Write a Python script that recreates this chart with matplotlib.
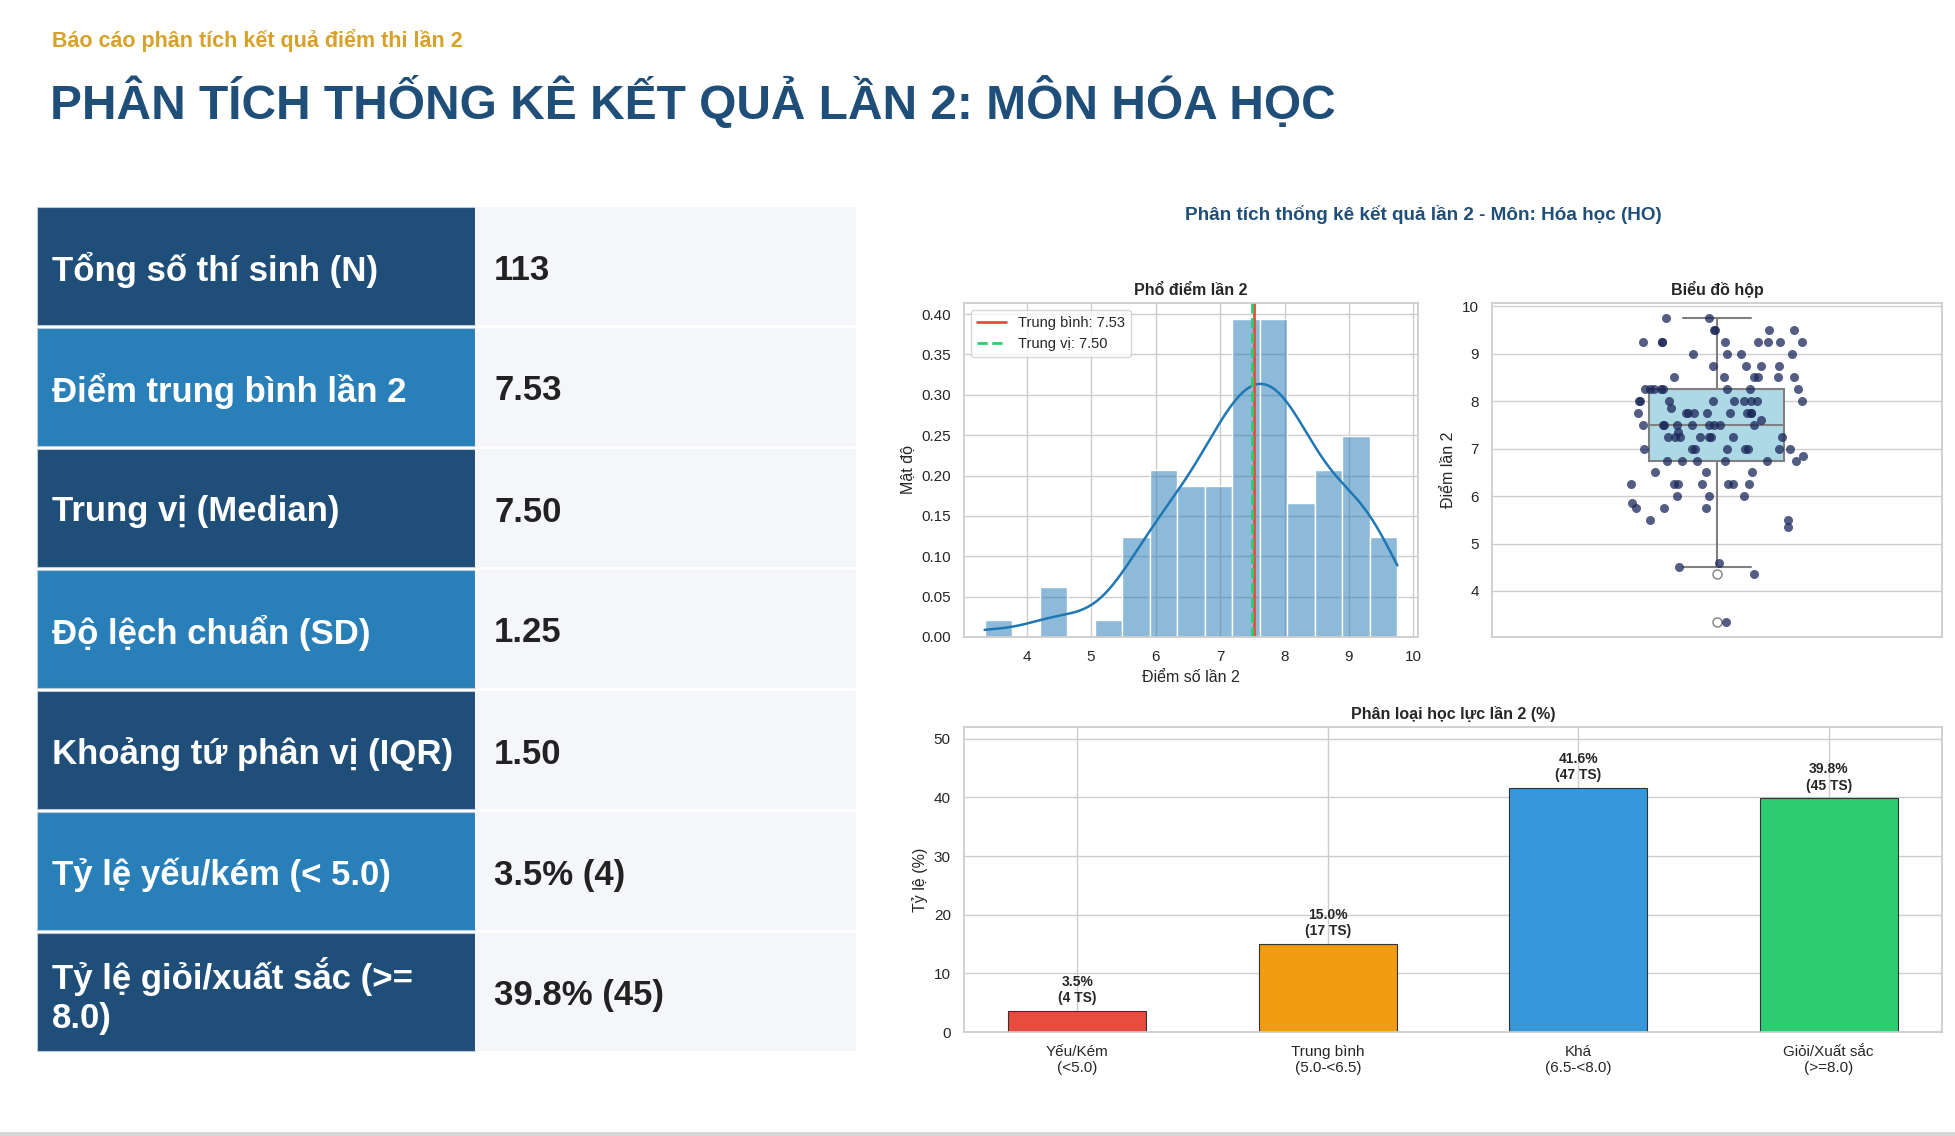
import textwrap
import numpy as np
import matplotlib
matplotlib.use("Agg")
import matplotlib.pyplot as plt
from matplotlib.patches import Rectangle
import seaborn as sns

# ---------------- data ----------------
scores = [
    3.35,
    4.35, 4.5, 4.6,
    5.35, 5.5, 5.5, 5.75, 5.75, 5.75, 5.85,
    6.0, 6.0, 6.0, 6.25, 6.25, 6.25, 6.25, 6.25, 6.25, 6.25,
    6.5, 6.5, 6.5, 6.75, 6.75, 6.75, 6.75, 6.75, 6.75, 6.85,
    7.0, 7.0, 7.0, 7.0, 7.0, 7.0, 7.0, 7.0,
    7.25, 7.25, 7.25, 7.25, 7.25, 7.25, 7.25, 7.25, 7.35,
    7.5, 7.5, 7.5, 7.5, 7.5, 7.5, 7.5, 7.5, 7.5, 7.6,
    7.75, 7.75, 7.75, 7.75, 7.75, 7.75, 7.75, 7.75, 7.75, 7.85,
    8.0, 8.0, 8.0, 8.0, 8.0, 8.0, 8.0, 8.0, 8.0,
    8.25, 8.25, 8.25, 8.25, 8.25, 8.25, 8.25, 8.25,
    8.5, 8.5, 8.5, 8.5, 8.5, 8.5,
    8.75, 8.75, 8.75, 8.75,
    9.0, 9.0, 9.0, 9.0,
    9.25, 9.25, 9.25, 9.25, 9.25, 9.25, 9.25, 9.25,
    9.5, 9.5, 9.5, 9.5,
    9.75, 9.75,
]

stat_labels = [
    "Tổng số thí sinh (N)",
    "Điểm trung bình lần 2",
    "Trung vị (Median)",
    "Độ lệch chuẩn (SD)",
    "Khoảng tứ phân vị (IQR)",
    "Tỷ lệ yếu/kém (< 5.0)",
    "Tỷ lệ giỏi/xuất sắc (>= 8.0)",
]
stat_values = ["113", "7.53", "7.50", "1.25", "1.50", "3.5% (4)", "39.8% (45)"]

cat_names = ["Yếu/Kém\n(<5.0)", "Trung bình\n(5.0-<6.5)", "Khá\n(6.5-<8.0)", "Giỏi/Xuất sắc\n(>=8.0)"]
cat_edges = [0.0, 5.0, 6.5, 8.0, 10.01]
cat_colors = ["#e74c3c", "#f39c12", "#3498db", "#2ecc71"]

subtitle = "Báo cáo phân tích kết quả điểm thi lần 2"
main_title = "PHÂN TÍCH THỐNG KÊ KẾT QUẢ LẦN 2: MÔN HÓA HỌC"
chart_title = "Phân tích thống kê kết quả lần 2 - Môn: Hóa học (HO)"

# ---------------- style ----------------
sns.set_theme(style="whitegrid")
plt.rcParams["font.family"] = ["Liberation Sans", "DejaVu Sans"]

W, H = 1956, 1136
fig = plt.figure(figsize=(W / 100, H / 100), dpi=100)
fig.patch.set_facecolor("white")

def ax_px(l, t, r, b):
    return fig.add_axes([l / W, 1 - b / H, (r - l) / W, (b - t) / H])

# background / table layer in pixel coordinates
bg = fig.add_axes([0, 0, 1, 1])
bg.set_xlim(0, W)
bg.set_ylim(H, 0)
bg.axis("off")

bg.text(52, 40, subtitle, fontsize=15.5, fontweight="bold", color="#d6a22b", va="center", ha="left")
bg.text(50, 103, main_title, fontsize=34.5, fontweight="bold", color="#1f4e79", va="center", ha="left")

dark, mid = "#1f4e79", "#2980b9"
top0, pitch, rh = 207, 121, 118
for i, (lab, val) in enumerate(zip(stat_labels, stat_values)):
    top = top0 + i * pitch
    bg.add_patch(Rectangle((37, top), 438, rh, facecolor=dark if i % 2 == 0 else mid,
                           edgecolor="#b9c9da", linewidth=0.8))
    bg.add_patch(Rectangle((475, top), 381, rh, facecolor="#f4f6fa", edgecolor="none"))
    bg.text(52, top + rh / 2 + 4, textwrap.fill(lab, 23), fontsize=25, fontweight="bold",
            color="white", va="center", ha="left", linespacing=1.25)
    bg.text(494, top + rh / 2 + 4, val, fontsize=25, fontweight="bold",
            color="#222222", va="center", ha="left")

bg.add_patch(Rectangle((0, 1132), W, 4, facecolor="#d6d6d6", edgecolor="none"))

bg.text(1423, 215, chart_title, fontsize=13.6, fontweight="bold", color="#1f4e79",
        ha="center", va="center")

arr = np.array(scores)
mean_v = arr.mean()
median_v = np.median(arr)

TS, LS, TT = 11, 11.5, 11.5   # tick, label, title sizes

# ---------------- histogram ----------------
ax1 = ax_px(964, 303, 1418, 637)
sns.histplot(arr, bins=15, stat="density", kde=True, color="#1f77b4", alpha=0.5,
             edgecolor="white", linewidth=1, line_kws={"linewidth": 1.8}, ax=ax1)
ax1.axvline(mean_v, color="#e74c3c", lw=2, label=f"Trung bình: {mean_v:.2f}")
ax1.axvline(median_v, color="#2ecc71", lw=2, ls="--", label=f"Trung vị: {median_v:.2f}")
ax1.set_title("Phổ điểm lần 2", fontsize=TT, fontweight="bold", color="#262626")
ax1.set_xlabel("Điểm số lần 2", fontsize=LS)
ax1.set_ylabel("Mật độ", fontsize=LS)
ax1.tick_params(labelsize=TS)
ax1.set_yticks(np.arange(0, 0.41, 0.05))
ax1.yaxis.set_major_formatter(matplotlib.ticker.FormatStrFormatter("%.2f"))
ax1.legend(loc="upper left", fontsize=10.5, frameon=True)

# ---------------- box plot ----------------
ax2 = ax_px(1492, 303, 1942, 637)
np.random.seed(3)
sns.stripplot(y=arr, ax=ax2, jitter=0.2, color="#1b2759", alpha=0.75, size=6.5, zorder=3)
gray = "#808080"
ax2.boxplot(arr, positions=[0], widths=0.3, patch_artist=True, manage_ticks=False, zorder=2,
            boxprops=dict(facecolor="#add8e6", edgecolor=gray, linewidth=1.5),
            whiskerprops=dict(color=gray, linewidth=1.5),
            capprops=dict(color=gray, linewidth=1.5),
            medianprops=dict(color=gray, linewidth=1.5),
            flierprops=dict(marker="o", markerfacecolor="white", markeredgecolor=gray,
                            markersize=6.5))
ax2.set_xlim(-0.5, 0.5)
ax2.set_xticks([])
ax2.grid(axis="x", visible=False)
ax2.set_title("Biểu đồ hộp", fontsize=TT, fontweight="bold", color="#262626")
ax2.set_ylabel("Điểm lần 2", fontsize=LS)
ax2.set_xlabel("")
ax2.tick_params(labelsize=TS)

# ---------------- category bars ----------------
counts = [int(((arr >= lo) & (arr < hi)).sum()) for lo, hi in zip(cat_edges[:-1], cat_edges[1:])]
pct = [c / len(arr) * 100 for c in counts]
ax3 = ax_px(964, 727, 1942, 1032)
xs = np.arange(len(cat_names))
ax3.bar(xs, pct, width=0.55, color=cat_colors, edgecolor="#333333", linewidth=0.8)
for x, p, c in zip(xs, pct, counts):
    ax3.text(x, p + 1, f"{p:.1f}%\n({c} TS)", ha="center", va="bottom",
             fontsize=10, fontweight="bold", color="#262626")
ax3.set_ylim(0, max(pct) * 1.25)
ax3.set_xticks(xs)
ax3.set_xticklabels(cat_names, fontsize=11)
ax3.tick_params(axis="y", labelsize=TS)
ax3.set_ylabel("Tỷ lệ (%)", fontsize=LS)
ax3.set_title("Phân loại học lực lần 2 (%)", fontsize=TT, fontweight="bold", color="#262626")

fig.savefig("out.png", dpi=100, facecolor="white")
